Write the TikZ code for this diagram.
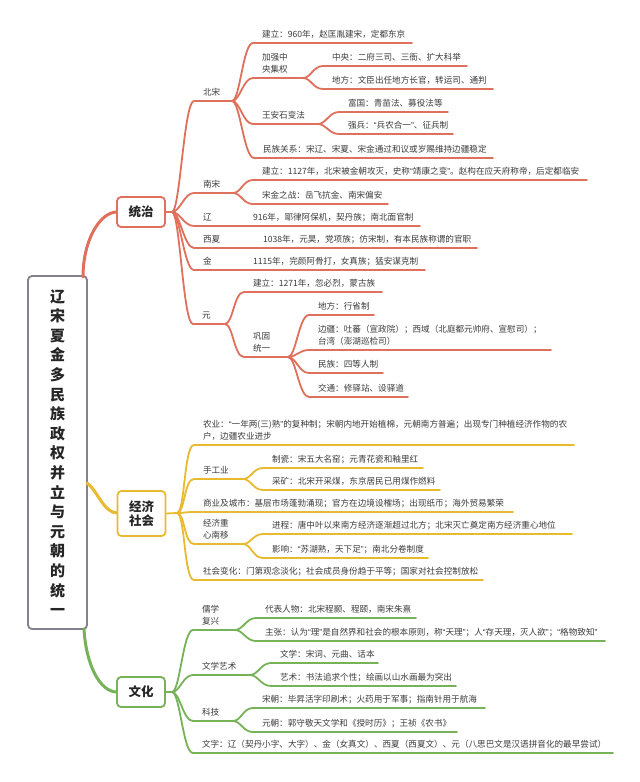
\documentclass[tikz,border=0pt]{standalone}
\usepackage{fontspec}
\setmainfont{Noto Sans CJK SC}
\newfontfamily\qf{Liberation Sans}
\newcommand\qo{{\qf “}}
\newcommand\qc{{\qf ”}}
\usetikzlibrary{calc}
\definecolor{rc}{RGB}{222,112,92}
\definecolor{yc}{RGB}{233,186,45}
\definecolor{gc}{RGB}{118,178,88}
\definecolor{tx}{RGB}{60,60,60}
\definecolor{rb}{RGB}{130,130,140}
\tikzset{
 txt/.style={inner sep=0pt, outer sep=0pt, text depth=2pt, align=left, text=tx, font=\fontsize{8.6}{12}\selectfont, anchor=south west},
 conn/.style={line width=1.8pt, line cap=round},
 rootconn/.style={line width=3pt, line cap=round},
 mainbox/.style={draw, line width=1.8pt, rounded corners=4pt, fill=white, text=black!85, font=\bfseries\fontsize{12.5}{14}\selectfont, align=center, minimum width=48pt, inner sep=0pt},
}
\newcommand\itm[7]{%
 \coordinate (#3-l) at (#4-9,#5);
 \coordinate (#3-e) at (#6,#5);
 \node[txt] (#3) at (#4,#5-3.7) {#7};
 \draw[conn,#1] (#2) .. controls +(8,0) and +(-10,0) .. (#3-l) -- (#3-e);
}
\begin{document}
\begin{tikzpicture}[x=1pt,y=-1pt]
\fill[white] (0,0) rectangle (640,782);
\useasboundingbox (0,0) rectangle (640,782);

% root
\node[draw=rb, line width=1.8pt, rounded corners=4pt, minimum width=59pt, minimum height=353pt, inner sep=0pt, align=center, text=black!85, font=\bfseries\fontsize{15}{19.6}\selectfont] (root) at (57.5,452.5) {辽\\宋\\夏\\金\\多\\民\\族\\政\\权\\并\\立\\与\\元\\朝\\的\\统\\一};

\coordinate (r1) at (83,277);
\coordinate (r2) at (87,483);
\coordinate (r3) at (84,629);
\coordinate (h1) at (172,212);
\coordinate (h2) at (177,513);
\coordinate (h3) at (172,692);

\draw[rootconn,rc] (r1) .. controls (83,240) and (100,212) .. (117,212);
\draw[rootconn,yc] (r2) .. controls (97,490) and (104,513) .. (117,513);
\draw[rootconn,gc] (r3) .. controls (86,665) and (100,692) .. (117,692);

\node[mainbox, draw=rc, minimum height=30pt] (tz) at (141,212) {统治};
\node[mainbox, draw=yc, minimum height=45pt] (jj) at (141.5,513.5) {经济\\社会};
\node[mainbox, draw=gc, minimum height=30pt] (wh) at (141,692) {文化};

\draw[conn,rc] (tz.east) -- (h1);
\draw[conn,yc] (jj.east) -- (h2);
\draw[conn,gc] (wh.east) -- (h3);

% 统治
\itm{rc}{h1}{bs}{203}{101}{232}{北宋}
\itm{rc}{h1}{ns}{203}{193}{233}{南宋}
\itm{rc}{h1}{liao}{203}{226}{420}{辽}
\node[txt] (liaod) at (253,226-3.7) {916年，耶律阿保机，契丹族；南北面官制};
\itm{rc}{h1}{xx}{203}{248}{477}{西夏}
\node[txt] (xxd) at (263,248-3.7) {1038年，元昊，党项族；仿宋制，有本民族称谓的官职};
\itm{rc}{h1}{jin}{203}{270}{425}{金}
\node[txt] (jind) at (253,270-3.7) {1115年，完颜阿骨打，女真族；猛安谋克制};
\itm{rc}{h1}{yuan}{202}{324}{225}{元}

\itm{rc}{bs-e}{bs1}{262}{43}{412}{建立：960年，赵匡胤建宋，定都东京}
\itm{rc}{bs-e}{bs2}{262}{78}{303}{加强中\\央集权}
\itm{rc}{bs2-e}{bs21}{332}{66}{467}{中央：二府三司、三衙、扩大科举}
\itm{rc}{bs2-e}{bs22}{332}{89}{493}{地方：文臣出任地方长官，转运司、通判}
\itm{rc}{bs-e}{bs3}{262}{124}{318}{王安石变法}
\itm{rc}{bs3-e}{bs31}{348}{112}{448}{富国：青苗法、募役法等}
\itm{rc}{bs3-e}{bs32}{348}{134}{453}{强兵：\qo 兵农合一\qc 、征兵制}
\itm{rc}{bs-e}{bs4}{263}{158}{493}{民族关系：宋辽、宋夏、宋金通过和议或岁赐维持边疆稳定}

\itm{rc}{ns-e}{ns1}{262}{180}{587}{建立：1127年，北宋被金朝攻灭，史称\qo 靖康之变\qc 。赵构在应天府称帝，后定都临安}
\itm{rc}{ns-e}{ns2}{262}{204}{388}{宋金之战：岳飞抗金、南宋偏安}

\itm{rc}{yuan-e}{y1}{253}{292}{382}{建立：1271年，忽必烈，蒙古族}
\itm{rc}{yuan-e}{y2}{253}{357}{288}{巩固\\统一}
\itm{rc}{y2-e}{y21}{318}{315}{374}{地方：行省制}
\itm{rc}{y2-e}{y22}{318}{350}{551}{边疆：吐蕃（宣政院）；西域（北庭都元帅府、宣慰司）；\\台湾（澎湖巡检司）}
\itm{rc}{y2-e}{y23}{318}{373}{383}{民族：四等人制}
\itm{rc}{y2-e}{y24}{318}{397}{408}{交通：修驿站、设驿道}

% 经济社会
\itm{yc}{h2}{ny}{203}{445}{574}{农业：\qo 一年两(三)熟\qc 的复种制；宋朝内地开始植棉，元朝南方普遍；出现专门种植经济作物的农\\户，边疆农业进步}
\itm{yc}{h2}{sg}{203}{479}{243}{手工业}
\itm{yc}{sg-e}{sg1}{272}{468}{423}{制瓷：宋五大名窑；元青花瓷和釉里红}
\itm{yc}{sg-e}{sg2}{272}{490}{440}{采矿：北宋开采煤，东京居民已用煤作燃料}
\itm{yc}{h2}{sy}{203}{512}{513}{商业及城市：基层市场蓬勃涌现；官方在边境设榷场；出现纸币；海外贸易繁荣}
\itm{yc}{h2}{zx}{203}{544}{243}{经济重\\心南移}
\itm{yc}{zx-e}{zx1}{272}{534}{572}{进程：唐中叶以来南方经济逐渐超过北方；北宋灭亡奠定南方经济重心地位}
\itm{yc}{zx-e}{zx2}{272}{558}{428}{影响：\qo 苏湖熟，天下足\qc ；南北分卷制度}
\itm{yc}{h2}{sh}{203}{580}{483}{社会变化：门第观念淡化；社会成员身份趋于平等；国家对社会控制放松}

% 文化
\itm{gc}{h3}{rx}{202}{630}{235}{儒学\\复兴}
\itm{gc}{rx-e}{rx1}{265}{618}{416}{代表人物：北宋程颢、程颐，南宋朱熹}
\itm{gc}{rx-e}{rx2}{265}{641}{605}{主张：认为\qo 理\qc 是自然界和社会的根本原则，称\qo 天理\qc ；人\qo 存天理，灭人欲\qc ；\qo 格物致知\qc}
\itm{gc}{h3}{wx}{202}{675}{250}{文学艺术}
\itm{gc}{wx-e}{wx1}{280}{663}{378}{文学：宋词、元曲、话本}
\itm{gc}{wx-e}{wx2}{280}{686}{456}{艺术：书法追求个性；绘画以山水画最为突出}
\itm{gc}{h3}{kj}{202}{721}{233}{科技}
\itm{gc}{kj-e}{kj1}{262}{708}{485}{宋朝：毕昇活字印刷术；火药用于军事；指南针用于航海}
\itm{gc}{kj-e}{kj2}{262}{732}{457}{元朝：郭守敬天文学和《授时历》；王祯《农书》}
\itm{gc}{h3}{wz}{202}{753}{613}{文字：辽（契丹小字、大字）、金（女真文）、西夏（西夏文）、元（八思巴文是汉语拼音化的最早尝试）}
\end{tikzpicture}
\end{document}
